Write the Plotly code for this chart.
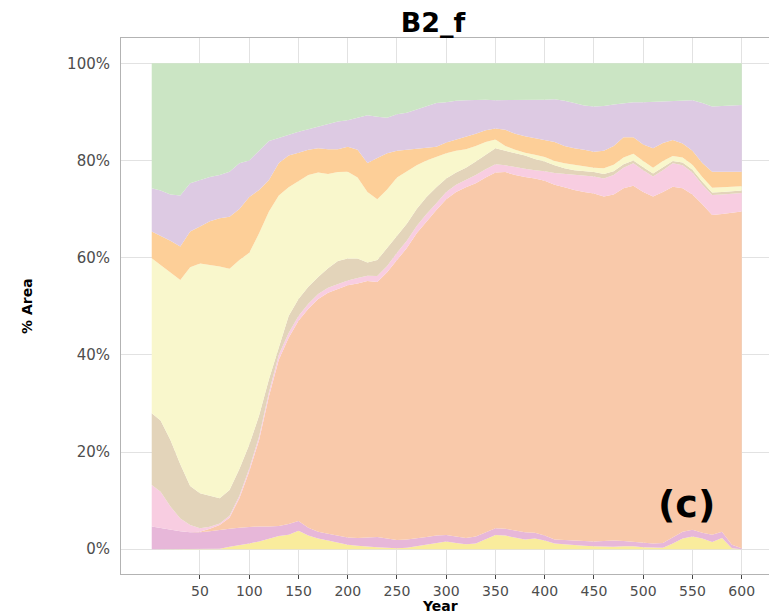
import plotly.graph_objects as go

years = [1, 10, 20, 30, 40, 50, 60, 70, 80, 90, 100, 110, 120, 130, 140, 150, 160, 170, 180, 190,
         200, 210, 220, 230, 240, 250, 260, 270, 280, 290, 300, 310, 320, 330, 340, 350, 360, 370, 380, 390,
         400, 410, 420, 430, 440, 450, 460, 470, 480, 490, 500, 510, 520, 530, 540, 550, 560, 570, 580, 590, 600]

# cumulative upper boundary of each stacked class (% area), bottom to top
top_yellow = [0, 0, 0, 0, 0, 0, 0, 0.1, 0.5, 0.8, 1.2, 1.6, 2.2, 2.7, 3.0, 3.8, 2.8, 2.2, 1.8, 1.3,
              0.9, 0.7, 0.5, 0.4, 0.3, 0.2, 0.3, 0.6, 1.0, 1.3, 1.6, 1.3, 1.0, 1.2, 2.0, 2.9, 2.8, 2.4, 2.0, 2.2,
              1.8, 1.2, 1.0, 0.9, 0.7, 0.6, 0.5, 0.5, 0.6, 0.6, 0.4, 0.3, 0.3, 1.2, 2.2, 2.6, 2.2, 1.5, 2.3, 0.2, 0.0]
top_magenta = [4.7, 4.4, 4.0, 3.7, 3.5, 3.5, 3.7, 4.0, 4.2, 4.4, 4.6, 4.7, 4.7, 4.8, 5.2, 5.8, 4.4, 3.6, 3.2, 2.8,
               2.4, 2.3, 2.4, 2.5, 2.2, 1.9, 2.0, 2.2, 2.5, 2.8, 2.9, 2.6, 2.3, 2.6, 3.4, 4.3, 4.2, 3.8, 3.5, 3.4,
               2.8, 2.0, 1.9, 1.7, 1.6, 1.6, 1.7, 1.8, 1.7, 1.5, 1.3, 1.2, 1.3, 2.5, 3.6, 4.0, 3.4, 3.0, 3.6, 0.9, 0.2]
top_salmon = [4.7, 4.4, 4.0, 3.7, 3.5, 3.6, 4.2, 5.0, 6.5, 10.5, 16.0, 22.5, 31.5, 39.0, 43.5, 47.0, 49.5, 51.5, 52.8, 53.6,
              54.3, 54.7, 55.2, 55.0, 57.0, 59.5, 62.0, 65.0, 67.5, 69.8, 72.0, 73.5, 74.5, 75.3, 76.5, 77.5, 77.6, 77.0, 76.6, 76.3,
              75.8, 75.0, 74.5, 73.9, 73.5, 73.2, 72.6, 73.0, 74.3, 74.8, 73.5, 72.6, 73.5, 74.6, 74.3, 73.0, 71.0, 68.8, 69.0, 69.3, 69.5]
top_pink = [13.2, 11.8, 8.8, 6.3, 5.0, 4.3, 4.6, 5.3, 6.9, 11.0, 16.6, 23.2, 32.3, 40.0, 44.5, 48.0, 50.5, 52.5, 53.8, 54.6,
            55.3, 55.8, 56.3, 56.2, 58.3, 61.0, 63.5, 66.5, 69.0, 71.2, 73.5, 75.0, 76.0, 77.0, 78.2, 79.2, 79.0, 78.6, 78.3, 78.0,
            77.8, 77.4, 77.2, 77.0, 76.8, 76.7, 76.3, 77.0, 78.5, 79.4, 78.0, 76.7, 78.0, 79.4, 79.0, 77.5, 75.0, 72.9, 73.0, 73.2, 73.3]
top_tan = [28.0, 26.5, 22.5, 17.5, 13.0, 11.5, 11.0, 10.5, 12.2, 16.5, 21.5, 27.5, 35.0, 41.5, 48.0, 51.5, 54.0, 56.0, 57.8, 59.3,
           59.8, 59.8, 59.0, 59.5, 62.0, 64.5, 67.0, 70.0, 72.5, 74.5, 76.3, 77.5, 78.5, 79.8, 81.2, 82.5, 82.0, 81.5, 81.0, 80.3,
           79.8, 79.0, 78.4, 78.0, 77.8, 77.6, 77.2, 77.8, 79.2, 80.0, 78.6, 77.3, 78.6, 79.9, 79.6, 78.1, 75.6, 73.4, 73.5, 73.7, 73.8]
top_paleyellow = [59.9, 58.5, 57.0, 55.4, 58.0, 58.8, 58.5, 58.2, 57.7, 59.5, 61.0, 65.0, 69.5, 72.8, 74.5, 75.7, 77.0, 77.5, 77.2, 77.6,
                  77.7, 76.5, 73.5, 72.0, 74.0, 76.5, 77.8, 79.0, 80.0, 80.8, 81.5, 82.0, 82.3, 83.0, 83.8, 84.3, 83.0, 82.2, 81.6, 81.2,
                  80.7, 79.9, 79.4, 79.1, 78.8, 78.5, 78.4, 79.1, 80.6, 81.4, 79.9, 78.5, 79.9, 80.9, 80.6, 79.1, 76.6, 74.4, 74.5, 74.6, 74.7]
top_orange = [65.4, 64.5, 63.5, 62.3, 65.4, 66.4, 67.5, 68.1, 68.4, 70.0, 72.5, 73.9, 76.0, 79.5, 81.0, 81.6, 82.2, 82.5, 82.3, 82.3,
              82.8, 82.2, 79.5, 80.5, 81.5, 82.0, 82.2, 82.3, 82.5, 82.8, 83.7, 84.3, 84.8, 85.5, 86.2, 86.6, 86.3, 85.5, 85.0, 84.6,
              84.3, 83.8, 83.0, 82.5, 82.2, 81.8, 82.0, 83.0, 84.8, 84.8, 83.3, 82.5, 83.6, 84.2, 83.5, 82.0, 79.5, 77.7, 77.7, 77.7, 77.7]
top_lilac = [74.3, 73.8, 73.0, 72.8, 75.3, 76.0, 76.6, 77.0, 77.7, 79.4, 80.0, 82.0, 84.0, 84.6, 85.3, 85.9, 86.4, 86.9, 87.4, 88.0,
             88.3, 88.8, 89.3, 89.0, 88.8, 89.5, 89.8, 90.5, 91.2, 91.8, 92.0, 92.3, 92.4, 92.5, 92.5, 92.4, 92.4, 92.5, 92.5, 92.4,
             92.5, 92.6, 92.3, 91.8, 91.3, 91.1, 91.2, 91.5, 91.8, 92.0, 92.0, 92.1, 92.2, 92.3, 92.4, 92.4, 91.8, 91.1, 91.2, 91.3, 91.4]
top_green = [100.0] * len(years)

layers = [
    ("c1", top_yellow, "#f9ec9c"),
    ("c2", top_magenta, "#e7b7d9"),
    ("c3", top_salmon, "#f9c9aa"),
    ("c4", top_pink, "#f8cde1"),
    ("c5", top_tan, "#e3d4ba"),
    ("c6", top_paleyellow, "#f9f7cc"),
    ("c7", top_orange, "#fdcf98"),
    ("c8", top_lilac, "#ddcae3"),
    ("c9", top_green, "#cbe5c4"),
]

x_ticks = [50, 100, 150, 200, 250, 300, 350, 400, 450, 500, 550, 600]
y_ticks = [0, 20, 40, 60, 80, 100]
y_labels = ["0%", "20%", "40%", "60%", "80%", "100%"]

fig = go.Figure()
for i, (name, vals, col) in enumerate(layers):
    fig.add_trace(go.Scatter(
        x=years, y=vals, name=name, mode="lines",
        line=dict(width=0, color=col),
        fill="tozeroy" if i == 0 else "tonexty",
        fillcolor=col, showlegend=False, hoverinfo="skip",
    ))

font_main = "DejaVu Sans"
fig.update_layout(
    width=769, height=615,
    margin=dict(l=121, r=0, t=38, b=41, pad=0),
    paper_bgcolor="white", plot_bgcolor="white",
    title=dict(text="B2_f", x=433 / 769, xanchor="center", xref="container",
               y=1 - 23 / 615, yanchor="middle",
               font=dict(family=font_main, size=27, color="black", weight="bold")),
    xaxis=dict(
        range=[-30.2, 627.7], tickvals=x_ticks, ticktext=[str(v) for v in x_ticks],
        showgrid=True, gridcolor="#e2e2e2", gridwidth=1, zeroline=False,
        showline=True, linecolor="#b3b3b3", linewidth=1, mirror=True,
        ticks="outside", ticklen=4, tickwidth=1, tickcolor="#444444",
        ticklabelstandoff=0,
        tickfont=dict(family=font_main, size=14, color="#4d4d4d"),
    ),
    yaxis=dict(
        range=[-5.1, 105.2], tickvals=y_ticks, ticktext=y_labels,
        showgrid=True, gridcolor="#e2e2e2", gridwidth=1, zeroline=False,
        showline=True, linecolor="#b3b3b3", linewidth=1, mirror=False,
        ticks="", ticklabelstandoff=7,
        tickfont=dict(family=font_main, size=15, color="#4d4d4d"),
    ),
    annotations=[
        dict(x=544.4, y=9.3, xref="x", yref="y", text="(c)", showarrow=False,
             xanchor="center", yanchor="middle",
             font=dict(family=font_main, size=38, color="black", weight="bold")),
        dict(x=(440 - 121) / 648, y=-(615 - 574) / 536, xref="paper", yref="paper",
             text="Year", showarrow=False, xanchor="center", yanchor="bottom", borderpad=0,
             font=dict(family=font_main, size=14, color="black", weight="bold")),
        dict(x=(27 - 121) / 648, y=0.5, xref="paper", yref="paper",
             text="% Area", showarrow=False, xanchor="center", yanchor="middle", textangle=-90,
             font=dict(family=font_main, size=14, color="black", weight="bold")),
    ],
)

fig.write_html("out.html")
